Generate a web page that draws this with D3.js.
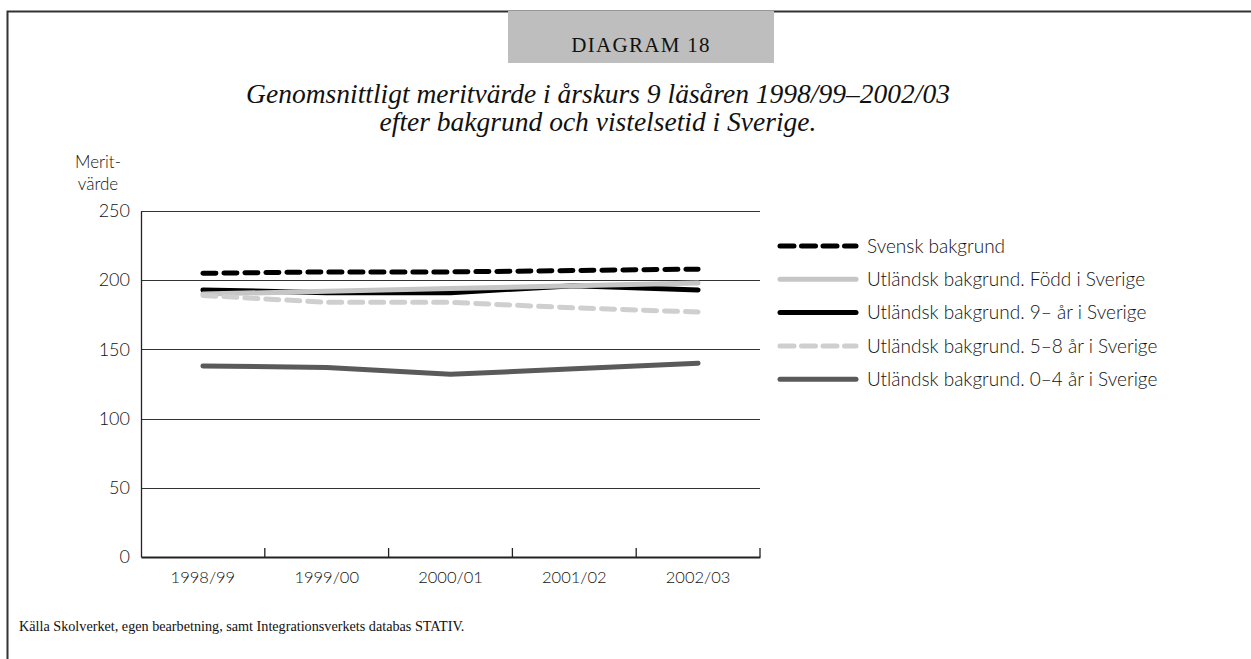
<!DOCTYPE html>
<html>
<head>
<meta charset="utf-8">
<script src="https://cdn.jsdelivr.net/npm/d3@7"></script>
<style>
  body { margin: 0; background: #fff; }
  svg { display: block; }
</style>
</head>
<body>
<div id="chart"></div>
<script>
// data
const years = ["1998/99", "1999/00", "2000/01", "2001/02", "2002/03"];
const yTicks = [0, 50, 100, 150, 200, 250];

const svensk = [205, 206, 206, 207, 208];
const foddSverige = [190, 192, 194, 196, 198];
const nioAr = [193, 191, 191, 196, 193];
const femAttaAr = [189, 184, 184, 180, 177];
const nollFyraAr = [138, 137, 132, 136, 140];

const seriesNames = [
  "Svensk bakgrund",
  "Utländsk bakgrund. Född i Sverige",
  "Utländsk bakgrund. 9– år i Sverige",
  "Utländsk bakgrund. 5–8 år i Sverige",
  "Utländsk bakgrund. 0–4 år i Sverige"
];

const series = [
  { name: seriesNames[0], values: svensk, color: "#000", dash: "13,8" },
  { name: seriesNames[1], values: foddSverige, color: "#c6c6c6", dash: null },
  { name: seriesNames[2], values: nioAr, color: "#000", dash: null },
  { name: seriesNames[3], values: femAttaAr, color: "#cfcfcf", dash: "13,8" },
  { name: seriesNames[4], values: nollFyraAr, color: "#5a5a5a", dash: null }
];
// drawing order: the light grey "Född i Sverige" line sits over the black one
const drawOrder = [0, 2, 1, 3, 4];

const W = 1251, H = 659;
const sans = "Lato, 'Open Sans', sans-serif";
const serif = "'Liberation Serif', 'DejaVu Serif', serif";

const svg = d3.select("#chart").append("svg")
  .attr("width", W)
  .attr("height", H);

// outer frame (top and left)
svg.append("path")
  .attr("d", "M7.5," + H + " V11.5 H" + W)
  .attr("fill", "none")
  .attr("stroke", "#333")
  .attr("stroke-width", 2);

// header box
svg.append("rect")
  .attr("x", 508).attr("y", 11)
  .attr("width", 266).attr("height", 52)
  .attr("fill", "#bebebe");

svg.append("text")
  .attr("x", 641).attr("y", 52)
  .attr("text-anchor", "middle")
  .style("font-family", serif)
  .style("font-size", "21px")
  .style("letter-spacing", "1.3px")
  .attr("fill", "#111")
  .text("DIAGRAM 18");

const titleLines = [
  "Genomsnittligt meritvärde i årskurs 9 läsåren 1998/99–2002/03",
  "efter bakgrund och vistelsetid i Sverige."
];
svg.selectAll(".title")
  .data(titleLines)
  .enter()
  .append("text")
  .attr("class", "title")
  .attr("x", 598)
  .attr("y", (d, i) => 103 + i * 28)
  .attr("text-anchor", "middle")
  .style("font-family", serif)
  .style("font-style", "italic")
  .style("font-size", "27.5px")
  .attr("fill", "#111")
  .text(d => d);

// plot area
const plotLeft = 141, plotRight = 760, plotTop = 211, plotBottom = 557;

const x = d3.scaleBand()
  .domain(years)
  .range([plotLeft, plotRight]);

const y = d3.scaleLinear()
  .domain([0, 250])
  .range([plotBottom, plotTop]);

// gridlines
svg.append("g")
  .selectAll("line")
  .data(yTicks.filter(d => d > 0))
  .enter()
  .append("line")
  .attr("x1", plotLeft).attr("x2", plotRight)
  .attr("y1", d => Math.round(y(d)) + 0.5)
  .attr("y2", d => Math.round(y(d)) + 0.5)
  .attr("stroke", "#333")
  .attr("stroke-width", 1.2);

// y axis
const yAxis = svg.append("g")
  .attr("transform", "translate(" + plotLeft + ",0)")
  .call(d3.axisLeft(y).tickValues(yTicks).tickSize(0).tickPadding(11));
yAxis.select(".domain").attr("stroke", "#222").attr("stroke-width", 1.3);
yAxis.selectAll("text")
  .style("font-family", sans)
  .style("font-size", "18px")
  .style("font-weight", 300)
  .attr("fill", "#111");

// x axis
const xAxis = svg.append("g")
  .attr("transform", "translate(0," + plotBottom + ")")
  .call(d3.axisBottom(x).tickSize(0).tickPadding(14));
xAxis.select(".domain").attr("stroke", "#222").attr("stroke-width", 2);
xAxis.selectAll("text")
  .style("font-family", sans)
  .style("font-size", "16.5px")
  .style("font-weight", 300)
  .attr("fill", "#111");

// inward ticks at band edges
svg.append("g")
  .selectAll("line")
  .data(years)
  .enter()
  .append("line")
  .attr("x1", d => x(d) + x.bandwidth())
  .attr("x2", d => x(d) + x.bandwidth())
  .attr("y1", plotBottom)
  .attr("y2", plotBottom - 9)
  .attr("stroke", "#222")
  .attr("stroke-width", 1.3);

// y-axis title
svg.selectAll(".ylab")
  .data(["Merit-", "värde"])
  .enter()
  .append("text")
  .attr("class", "ylab")
  .attr("x", 98)
  .attr("y", (d, i) => 168 + i * 22)
  .attr("text-anchor", "middle")
  .style("font-family", sans)
  .style("font-size", "17px")
  .style("font-weight", 300)
  .attr("fill", "#111")
  .text(d => d);

// lines
const line = d3.line()
  .x((d, i) => x(years[i]) + x.bandwidth() / 2)
  .y(d => y(d));

svg.append("g")
  .selectAll("path")
  .data(drawOrder.map(i => series[i]))
  .enter()
  .append("path")
  .attr("d", d => line(d.values))
  .attr("fill", "none")
  .attr("stroke", d => d.color)
  .attr("stroke-width", 5)
  .attr("stroke-linecap", "round")
  .attr("stroke-linejoin", "round")
  .attr("stroke-dasharray", d => d.dash);

// legend
const legend = svg.append("g")
  .attr("transform", "translate(778,246)")
  .selectAll("g")
  .data(series)
  .enter()
  .append("g")
  .attr("transform", (d, i) => "translate(0," + i * 33.3 + ")");

legend.append("line")
  .attr("x1", 2).attr("x2", 78)
  .attr("y1", 0).attr("y2", 0)
  .attr("stroke", d => d.color)
  .attr("stroke-width", 5)
  .attr("stroke-linecap", "round")
  .attr("stroke-dasharray", d => d.dash ? "14,7.5" : null);

legend.append("text")
  .attr("x", 89)
  .attr("y", 0)
  .attr("dy", "0.35em")
  .style("font-family", sans)
  .style("font-size", "19px")
  .style("font-weight", 300)
  .attr("fill", "#111")
  .text(d => d.name);

// source
svg.append("text")
  .attr("x", 19).attr("y", 631)
  .style("font-family", serif)
  .style("font-size", "14.2px")
  .attr("fill", "#111")
  .text("Källa Skolverket, egen bearbetning, samt Integrationsverkets databas STATIV.");
</script>
</body>
</html>
